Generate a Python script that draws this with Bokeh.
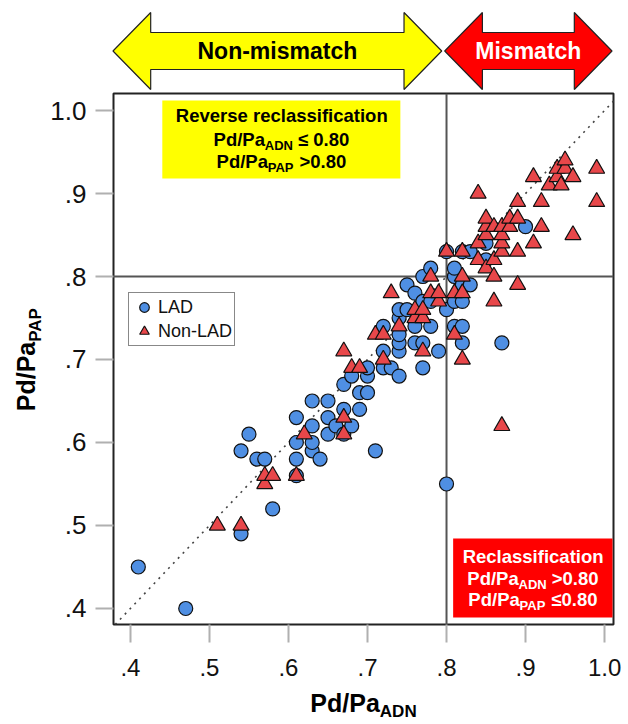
import math
from bokeh.plotting import figure
from bokeh.models import Range1d, FixedTicker, Span, Slope, BoxAnnotation, Label
from bokeh.core.properties import value
from bokeh.layouts import column, row
from bokeh.embed import file_html
from bokeh.resources import INLINE

# ---------------- data ----------------
LAD_X = [0.41, 0.47, 0.54, 0.54, 0.55, 0.56, 0.57, 0.58,
         0.61, 0.61, 0.61, 0.61, 0.63, 0.63, 0.63, 0.63,
         0.64, 0.65, 0.65, 0.65, 0.66, 0.67, 0.67, 0.67,
         0.68, 0.68, 0.69, 0.69, 0.70, 0.70, 0.70, 0.71,
         0.72, 0.72, 0.72, 0.73, 0.74, 0.74, 0.74, 0.74,
         0.74, 0.74, 0.75, 0.75, 0.76, 0.76, 0.76, 0.77,
         0.77, 0.77, 0.77, 0.78, 0.78, 0.78, 0.79, 0.80,
         0.80, 0.80, 0.81, 0.81, 0.81, 0.81, 0.82, 0.82,
         0.82, 0.82, 0.82, 0.83, 0.83, 0.85, 0.85, 0.87, 0.90]
LAD_Y = [0.45, 0.40, 0.49, 0.59, 0.61, 0.58, 0.58, 0.52,
         0.56, 0.58, 0.60, 0.63, 0.59, 0.60, 0.62, 0.65,
         0.58, 0.61, 0.63, 0.65, 0.62, 0.61, 0.64, 0.67,
         0.62, 0.68, 0.64, 0.66, 0.66, 0.68, 0.69, 0.59,
         0.69, 0.71, 0.74, 0.69, 0.68, 0.71, 0.72, 0.73,
         0.75, 0.76, 0.76, 0.79, 0.72, 0.74, 0.78, 0.69,
         0.72, 0.77, 0.80, 0.74, 0.77, 0.81, 0.71, 0.55,
         0.76, 0.83, 0.74, 0.77, 0.80, 0.81, 0.72, 0.74,
         0.77, 0.79, 0.83, 0.79, 0.83, 0.82, 0.84, 0.72, 0.86]

NONLAD_X = [0.51, 0.54, 0.57, 0.57, 0.58, 0.61, 0.62, 0.67,
            0.67, 0.67, 0.68, 0.69, 0.71, 0.72, 0.72, 0.73,
            0.74, 0.76, 0.76, 0.77, 0.77, 0.77, 0.78, 0.78,
            0.79, 0.79, 0.80, 0.81, 0.81, 0.82, 0.82, 0.82,
            0.82, 0.84, 0.84, 0.84, 0.85, 0.85, 0.85, 0.85,
            0.86, 0.86, 0.86, 0.86, 0.87, 0.87, 0.87, 0.87,
            0.87, 0.88, 0.88, 0.89, 0.89, 0.89, 0.89, 0.91,
            0.91, 0.92, 0.92, 0.93, 0.94, 0.94, 0.945, 0.95,
            0.95, 0.96, 0.96, 0.99, 0.99]
NONLAD_Y = [0.50, 0.50, 0.55, 0.56, 0.56, 0.56, 0.61, 0.61,
            0.63, 0.71, 0.69, 0.69, 0.73, 0.70, 0.73, 0.78,
            0.74, 0.75, 0.76, 0.71, 0.75, 0.76, 0.78, 0.80,
            0.77, 0.78, 0.83, 0.73, 0.78, 0.70, 0.78, 0.80,
            0.83, 0.82, 0.84, 0.90, 0.81, 0.85, 0.86, 0.87,
            0.77, 0.80, 0.82, 0.86, 0.62, 0.83, 0.84, 0.85,
            0.86, 0.86, 0.87, 0.79, 0.83, 0.87, 0.89, 0.84,
            0.92, 0.86, 0.89, 0.91, 0.92, 0.93, 0.91, 0.93,
            0.94, 0.85, 0.92, 0.89, 0.93]

SERIES_NAMES = ["LAD", "Non-LAD"]
ZONE_NAMES = ["Non-mismatch", "Mismatch"]
CUTOFF = 0.80

X_TICKS = [0.4, 0.5, 0.6, 0.7, 0.8, 0.9, 1.0]
X_TICK_LABELS = [".4", ".5", ".6", ".7", ".8", ".9", "1.0"]
Y_TICKS = [0.4, 0.5, 0.6, 0.7, 0.8, 0.9, 1.0]
Y_TICK_LABELS = [".4", ".5", ".6", ".7", ".8", ".9", "1.0"]

# ---------------- layout helpers (page pixel -> data) ----------------
FONT = "Liberation Sans"
PAGE_W, PAGE_H = 628, 724
TOP_H = 91          # arrow strip: page y 0..91
BOT_Y = 690         # x-title strip: page y 690..724
LEFT_W = 47         # y-title strip: page x 0..47
FL, FR, FT, FB = 111, 613, 93, 624
X_LO, X_HI = 0.3786, 1.0113
Y_LO, Y_HI = 0.3807, 1.0205
K_BASE = 0.38       # label anchor -> visual baseline correction (em)


def dx(px):
    return X_LO + (px - FL) * (X_HI - X_LO) / (FR - FL)


def dy(py):
    return Y_LO + (FB - py) * (Y_HI - Y_LO) / (FB - FT)


PX_PER_X = (FR - FL) / (X_HI - X_LO)

# Arial-bold advance widths (1/1000 em)
AW = {"P": 667, "d": 611, "/": 278, "a": 556, "A": 722, "D": 722, "N": 722,
      " ": 278, "≤": 549, ">": 584, "0": 556, ".": 278, "8": 556,
      "R": 722, "e": 556, "v": 556, "r": 389, "s": 556, "c": 556, "l": 278,
      "i": 278, "f": 333, "t": 333, "o": 611, "n": 611}


def tw(s, size):
    return sum(AW.get(c, 556) for c in s) * size / 1000.0


def put_line(fig, fx, fy, cx, base_py, segs, color):
    # segs: (text, size, baseline offset px, gap before px)
    total = sum(tw(t, sz) + g for t, sz, off, g in segs)
    x = cx - total / 2.0
    for t, sz, off, g in segs:
        x += g
        fig.add_layout(Label(x=fx(x), y=fy(base_py + off - K_BASE * sz), text=t, text_font=FONT,
                             text_font_style="bold", text_font_size=f"{sz}px",
                             text_color=color, text_align="left",
                             text_baseline="alphabetic"))
        x += tw(t, sz)


# ---------------- main figure ----------------
MID_H = BOT_Y - TOP_H
p = figure(width=PAGE_W - LEFT_W, height=MID_H, x_range=Range1d(X_LO, X_HI),
           y_range=Range1d(Y_LO, Y_HI), output_backend="svg", toolbar_location=None,
           min_border_left=FL - LEFT_W, min_border_right=PAGE_W - FR,
           min_border_top=FT - TOP_H, min_border_bottom=BOT_Y - FB)
p.grid.visible = False
p.outline_line_color = "#222222"
p.outline_line_width = 2
p.outline_line_alpha = 1.0

for ax, ticks, labels, fsize, standoff in (
        (p.xaxis, X_TICKS, X_TICK_LABELS, "24px", 16),
        (p.yaxis, Y_TICKS, Y_TICK_LABELS, "26px", 9)):
    ax.ticker = FixedTicker(ticks=ticks)
    ax.major_label_overrides = dict(zip(ticks, labels))
    ax.major_label_text_font = FONT
    ax.major_label_text_font_size = fsize
    ax.major_label_text_color = "#111111"
    ax.major_label_standoff = standoff
    ax.major_tick_out = 18
    ax.major_tick_in = 0
    ax.major_tick_line_color = "#b0b0b0"
    ax.major_tick_line_width = 2
    ax.minor_tick_line_color = None
    ax.axis_line_color = None

p.add_layout(Span(location=CUTOFF, dimension="width", line_color="#555555",
                  line_width=2, level="underlay"))
p.add_layout(Span(location=CUTOFF, dimension="height", line_color="#555555",
                  line_width=2, level="underlay"))
p.add_layout(Slope(gradient=1, y_intercept=0, line_color="#444444", line_width=1.6,
                   line_dash="2 5", level="underlay"))

p.scatter(LAD_X, LAD_Y, marker="circle", size=14, fill_color="#4f8fe3",
          line_color="#111111", line_width=1.2, legend_label=SERIES_NAMES[0])
p.scatter(NONLAD_X, NONLAD_Y, marker="triangle", size=16, fill_color="#e8474a",
          line_color="#111111", line_width=1.2, legend_label=SERIES_NAMES[1])

lg = p.legend[0]
lg.location = (15, 278)
lg.border_line_color = "#111111"
lg.border_line_width = 1.2
lg.background_fill_color = "white"
lg.background_fill_alpha = 1.0
lg.label_text_font = FONT
lg.label_text_font_size = "18px"
lg.label_text_color = "#111111"
lg.glyph_width = 26
lg.glyph_height = 24
lg.label_height = 24
lg.label_standoff = 1
lg.padding = 2
lg.spacing = 0
lg.margin = 0

# info boxes
p.add_layout(BoxAnnotation(left=dx(160), right=dx(399), top=dy(100), bottom=dy(178),
                           fill_color="#ffff00", fill_alpha=1.0, line_color=None))
p.add_layout(BoxAnnotation(left=dx(452), right=dx(612), top=dy(538), bottom=dy(617),
                           fill_color="#ff0000", fill_alpha=1.0, line_color=None))

BIG, SUB = 18.5, 13
SP = tw(" ", BIG)
YCX, RCX = (160 + 399) / 2.0, (452 + 612) / 2.0
put_line(p, dx, dy, YCX, 122, [("Reverse reclassification", BIG, 0, 0)], "#000000")
put_line(p, dx, dy, YCX, 146, [("Pd/Pa", BIG, 0, 0), ("ADN", SUB, 4, 0), ("≤ 0.80", BIG, 0, SP)], "#000000")
put_line(p, dx, dy, YCX, 168, [("Pd/Pa", BIG, 0, 0), ("PAP", SUB, 4, 0), (">0.80", BIG, 0, SP)], "#000000")
put_line(p, dx, dy, RCX, 563, [("Reclassification", BIG, 0, 0)], "#ffffff")
put_line(p, dx, dy, RCX, 585, [("Pd/Pa", BIG, 0, 0), ("ADN", SUB, 4, 0), (">0.80", BIG, 0, SP)], "#ffffff")
put_line(p, dx, dy, RCX, 606, [("Pd/Pa", BIG, 0, 0), ("PAP", SUB, 4, 0), ("≤0.80", BIG, 0, SP)], "#ffffff")

AX_BIG, AX_SUB = 25, 17

# ---------------- y axis title strip (left) ----------------
ylab = figure(width=LEFT_W, height=MID_H, x_range=Range1d(0, LEFT_W), y_range=p.y_range,
              output_backend="svg", toolbar_location=None, x_axis_type=None, y_axis_type=None,
              min_border_left=0, min_border_right=0,
              min_border_top=FT - TOP_H, min_border_bottom=BOT_Y - FB)
ylab.outline_line_color = None
ylab.grid.visible = False

ylen = tw("Pd/Pa", AX_BIG) + tw("PAP", AX_SUB)
ystart = (FT + FB) / 2.0 + ylen / 2.0
ylab.text(x=[35 - K_BASE * AX_BIG, 41 - K_BASE * AX_SUB],
          y=[dy(ystart), dy(ystart - tw("Pd/Pa", AX_BIG))], text=["Pd/Pa", "PAP"],
          angle=math.pi / 2, text_font=value(FONT), text_font_style="bold",
          text_font_size=[f"{AX_BIG}px", f"{AX_SUB}px"], text_color="#000000",
          text_align="left", text_baseline="alphabetic")

# ---------------- x axis title strip (bottom) ----------------
xlab = figure(width=PAGE_W, height=PAGE_H - BOT_Y, x_range=p.x_range,
              y_range=Range1d(PAGE_H - BOT_Y, 0),
              output_backend="svg", toolbar_location=None, x_axis_type=None, y_axis_type=None,
              min_border_left=FL, min_border_right=PAGE_W - FR, min_border_top=0, min_border_bottom=0)
xlab.outline_line_color = None
xlab.grid.visible = False
put_line(xlab, dx, lambda py: py - BOT_Y, (FL + FR) / 2.0 + 1, 712,
         [("Pd/Pa", AX_BIG, 0, 0), ("ADN", AX_SUB, 5, 0)], "#000000")

# ---------------- top arrow strip ----------------
top = figure(width=PAGE_W, height=TOP_H, x_range=Range1d(X_LO, dx(617)), y_range=Range1d(TOP_H, 0),
             output_backend="svg", toolbar_location=None, x_axis_type=None, y_axis_type=None,
             min_border_left=FL, min_border_right=PAGE_W - 617, min_border_top=0, min_border_bottom=0)
top.outline_line_color = None
top.grid.visible = False

HEAD = 38 / PX_PER_X
GAP = 1.5 / PX_PER_X
Y_HT, Y_ST, Y_MID, Y_SB, Y_HB = 12, 32, 50.5, 69, 89
ARROW_FS = 23


def arrow(xl, xr):
    xs = [xl, xl + HEAD, xl + HEAD, xr - HEAD, xr - HEAD, xr, xr - HEAD, xr - HEAD, xl + HEAD, xl + HEAD]
    ys = [Y_MID, Y_HT, Y_ST, Y_ST, Y_HT, Y_MID, Y_HB, Y_SB, Y_SB, Y_HB]
    return xs, ys


for (xl, xr), fillc, txtc, name in (
        ((dx(112.5), CUTOFF - GAP), "#ffff00", "#000000", ZONE_NAMES[0]),
        ((CUTOFF + GAP, dx(615.5)), "#ff0000", "#ffffff", ZONE_NAMES[1])):
    xs, ys = arrow(xl, xr)
    top.patch(xs, ys, fill_color=fillc, line_color="#222222", line_width=1.2)
    top.add_layout(Label(x=(xl + xr) / 2.0, y=59.5 - K_BASE * ARROW_FS, text=name, text_font=FONT,
                         text_font_style="bold", text_font_size=f"{ARROW_FS}px", text_color=txtc,
                         text_align="center", text_baseline="alphabetic"))

layout = column(top, row(ylab, p), xlab)
open("out.html", "w").write(file_html(layout, INLINE))
